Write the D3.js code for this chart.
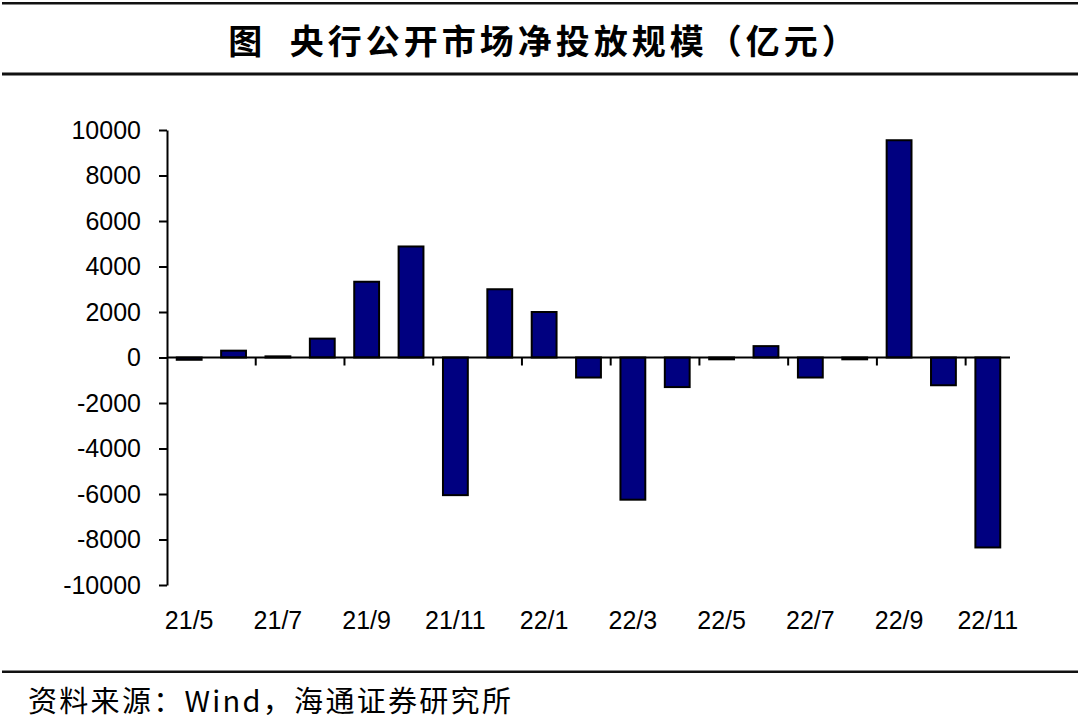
<!DOCTYPE html>
<html>
<head>
<meta charset="utf-8">
<script src="https://cdn.jsdelivr.net/npm/d3@7"></script>
<style>
  html, body { margin: 0; padding: 0; background: #fff; }
  svg { display: block; }
</style>
</head>
<body>
<script>
// ---- data ----
const title = "图  央行公开市场净投放规模（亿元）";
const source = "资料来源：Wind，海通证券研究所";
const categories = ["21/5","21/6","21/7","21/8","21/9","21/10","21/11","21/12",
                    "22/1","22/2","22/3","22/4","22/5","22/6","22/7","22/8",
                    "22/9","22/10","22/11"];
const values = [-100, 300, 50, 830, 3330, 4880, -6050, 3000, 2000, -880,
                -6250, -1300, -80, 500, -880, -80, 9550, -1220, -8350];
const yTicks = [10000, 8000, 6000, 4000, 2000, 0, -2000, -4000, -6000, -8000, -10000];
const xLabelEvery = 2;

// ---- layout ----
const W = 1080, H = 721;
const svg = d3.select("body").append("svg").attr("width", W).attr("height", H);

// header / footer rules
svg.append("rect").attr("x", 2).attr("y", 2).attr("width", W - 4).attr("height", 2.5).attr("fill", "#111");
svg.append("rect").attr("x", 2).attr("y", 72.5).attr("width", W - 4).attr("height", 3).attr("fill", "#111");
svg.append("rect").attr("x", 2).attr("y", 670.5).attr("width", W - 4).attr("height", 2.5).attr("fill", "#111");

svg.append("text").attr("x", 544).attr("y", 54)
  .attr("text-anchor", "middle")
  .style("font-family", "'Noto Sans CJK SC', sans-serif")
  .style("font-weight", 700).style("font-size", "34px")
  .style("letter-spacing", "4px")
  .style("white-space", "pre")
  .attr("fill", "#000").text(title);

svg.append("text").attr("x", 28).attr("y", 712)
  .style("font-family", "'Noto Sans CJK SC', sans-serif")
  .style("font-weight", 400).style("font-size", "29px")
  .style("letter-spacing", "2.3px")
  .attr("fill", "#000").text(source);

// scales
const x = d3.scaleBand().domain(categories).range([167, 1010]).paddingInner(0.44).paddingOuter(0.22);
const y = d3.scaleLinear().domain([-10000, 10000]).range([585, 130]);
const step = x.step();

// bars
svg.append("g").selectAll("rect").data(values).join("rect")
  .attr("x", (d, i) => x(categories[i]))
  .attr("width", x.bandwidth())
  .attr("y", d => y(Math.max(0, d)))
  .attr("height", d => Math.max(1, Math.abs(y(d) - y(0))))
  .attr("fill", "#000080")
  .attr("stroke", "#000").attr("stroke-width", 2);

// y axis
const yAxis = svg.append("g").attr("transform", "translate(167,0)")
  .call(d3.axisLeft(y).tickValues(yTicks).tickSize(8).tickPadding(18).tickSizeOuter(0)
    .tickFormat(d => String(d)));
yAxis.select(".domain").attr("stroke", "#000").attr("stroke-width", 2);
yAxis.selectAll(".tick line").attr("stroke", "#000").attr("stroke-width", 2);
yAxis.selectAll(".tick text")
  .style("font-family", "'Liberation Sans', Arial, sans-serif")
  .style("font-size", "25px").attr("fill", "#000");

// x axis at zero
const x0 = y(0);
svg.append("line").attr("x1", 167).attr("x2", 1010).attr("y1", x0).attr("y2", x0)
  .attr("stroke", "#000").attr("stroke-width", 2);
const tickIdx = d3.range(xLabelEvery, categories.length, xLabelEvery);
svg.append("g").selectAll("line").data(tickIdx).join("line")
  .attr("x1", i => x(categories[i]) - step * 0.22)
  .attr("x2", i => x(categories[i]) - step * 0.22)
  .attr("y1", x0).attr("y2", x0 + 8)
  .attr("stroke", "#000").attr("stroke-width", 2);

svg.append("g").selectAll("text").data(categories.filter((c, i) => i % xLabelEvery === 0)).join("text")
  .attr("x", c => x(c) + x.bandwidth() / 2)
  .attr("y", 629)
  .attr("text-anchor", "middle")
  .style("font-family", "'Liberation Sans', Arial, sans-serif")
  .style("font-size", "25px").attr("fill", "#000")
  .text(c => c);
</script>
</body>
</html>
